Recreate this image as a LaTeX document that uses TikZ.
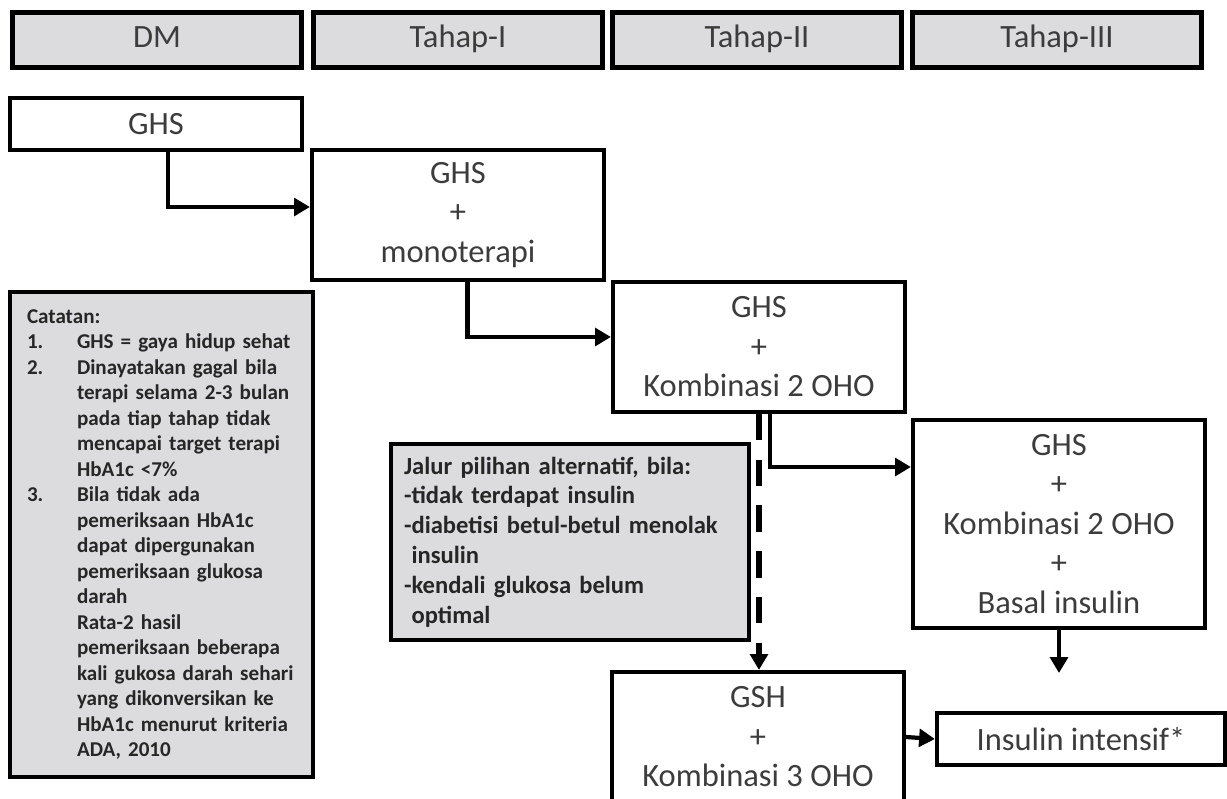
\documentclass[tikz,border=0pt]{standalone}
\usepackage{fontspec}
\setmainfont{Carlito}
\usepackage{tikz}
\usetikzlibrary{arrows.meta,positioning}
\definecolor{boxgray}{HTML}{DCDCDE}
\definecolor{txtgray}{HTML}{3C3C3C}
\newcommand{\catnum}[1]{\makebox[1cm][l]{#1}}
\newcommand{\catind}{\hspace*{1cm}}

\begin{document}
\begin{tikzpicture}[x=0.02cm, y=-0.02cm, line width=2.4pt,
  every node/.style={font=\fontsize{18.5}{22.5}\selectfont, text=txtgray},
  hdr/.style={draw, fill=boxgray, minimum width=5.78cm, minimum height=1.1cm, text height=13pt, text depth=4pt},
  stepbox/.style={draw, fill=white, align=center, minimum width=5.84cm},
  note/.style={draw, fill=boxgray, align=left, text=black!85, font=\bfseries\fontsize{12}{14.5}\selectfont},
  arr/.style={-{Triangle[length=9pt,width=10pt]}}]
\useasboundingbox (0,0) rectangle (1227,798);
\clip (0,0) rectangle (1227,798);
\fill[white] (0,0) rectangle (1227,798);
% kolom tahap
\foreach \x/\lab [count=\i] in {157/DM, 458/Tahap-I, 757/Tahap-II, 1057/Tahap-III}
  \node[hdr] (hdr\i) at (\x,40) {\lab};
% langkah terapi
\node[stepbox, minimum height=1.04cm] (ghs) at (156,124) {GHS};
\node[stepbox, minimum height=2.6cm] (mono) at (458,215) {GHS\\+\\monoterapi};
\node[stepbox, minimum height=2.6cm] (komb2) at (759,347) {GHS\\+\\Kombinasi 2 OHO};
\node[stepbox, minimum height=4.16cm] (basal) at (1059,524) {GHS\\+\\Kombinasi 2 OHO\\+\\Basal insulin};
\node[stepbox, minimum height=2.6cm] (gsh) at (758,737) {GSH\\+\\Kombinasi 3 OHO};
\node[stepbox, minimum width=5.76cm, minimum height=1.04cm] (ins) at (1081,739) {Insulin intensif*};
% catatan
\node[note, text width=5.38cm, inner xsep=0.34cm, minimum height=9.7cm] (catatan) at (161.5,534.5) {Catatan:\\
  \catnum{1.}GHS = gaya hidup sehat\\
  \catnum{2.}Dinayatakan gagal bila\\
  \catind terapi selama 2-3 bulan\\
  \catind pada tiap tahap tidak\\
  \catind mencapai target terapi\\
  \catind HbA1c <7\%\\
  \catnum{3.}Bila tidak ada\\
  \catind pemeriksaan HbA1c\\
  \catind dapat dipergunakan\\
  \catind pemeriksaan glukosa\\
  \catind darah\\
  \catind Rata-2 hasil\\
  \catind pemeriksaan beberapa\\
  \catind kali gukosa darah sehari\\
  \catind yang dikonversikan ke\\
  \catind HbA1c menurut kriteria\\
  \catind ADA, 2010};
\node[note, font=\bfseries\fontsize{14}{17}\selectfont, text width=6.64cm, inner xsep=0.26cm, minimum height=3.92cm] (jalur) at (570,542) {Jalur pilihan alternatif, bila:\\
  -tidak terdapat insulin\\
  -diabetisi betul-betul menolak\\
  \hspace*{0.15cm}insulin\\
  -kendali glukosa belum\\
  \hspace*{0.15cm}optimal};
% panah
\draw[arr] ([xshift=0.24cm]ghs.south) |- ([yshift=0.16cm]mono.west);
\draw[arr] ([xshift=0.19cm]mono.south) |- ([yshift=0.2cm]komb2.west);
\draw[arr] ([xshift=0.22cm]komb2.south) |- ([yshift=1.14cm]basal.west);
\draw[arr, line width=3.2pt, dash pattern=on 15pt off 11pt] (komb2.south) -- (komb2.south |- gsh.north);
\coordinate (basalend) at (1059,673);
\draw[arr] (basal.south) -- (basalend);
\draw[arr] (gsh.east) -- (ins.west);
\end{tikzpicture}
\end{document}
